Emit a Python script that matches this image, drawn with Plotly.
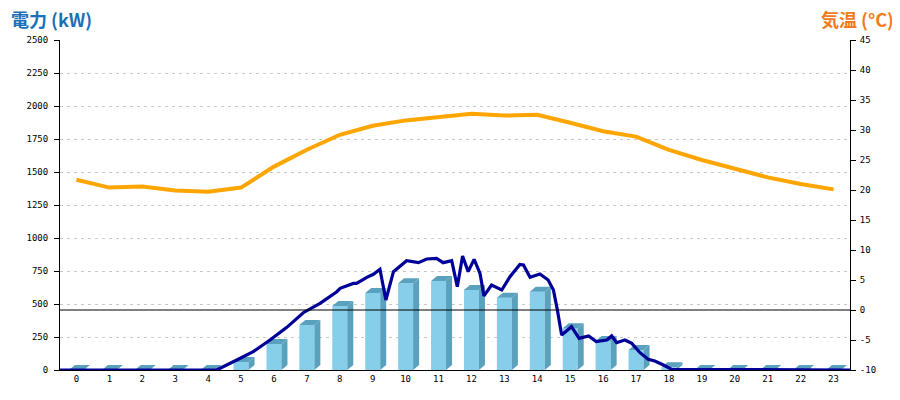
import plotly.graph_objects as go

# ---- data ----
hours = list(range(24))
bar_kw = [0, 0, 0, 0, 0, 61, 197, 341, 485, 583, 657, 674, 606, 548, 593, 317, 220, 152, 20, 0, 0, 0, 0, 0]
temp_c = [21.7, 20.4, 20.6, 19.9, 19.7, 20.4, 23.9, 26.7, 29.2, 30.7, 31.6, 32.2,
          32.7, 32.4, 32.55, 31.2, 29.8, 28.9, 26.7, 25.0, 23.55, 22.1, 21.0, 20.1]
# fine-grained power line: clock time (h) and kW
power_time = [0.0, 4.76, 5.37, 5.87, 6.38, 6.89, 7.39, 7.90, 8.41, 8.51, 8.91, 9.01, 9.32, 9.52,
              9.72, 9.90, 10.13, 10.53, 10.89, 11.14, 11.44, 11.64, 11.90, 12.07, 12.23,
              12.40, 12.58, 12.76, 12.88, 13.11, 13.42, 13.67, 13.97, 14.08, 14.28, 14.58,
              14.83, 14.99, 15.11, 15.24, 15.54, 15.77, 16.06, 16.29, 16.61, 16.76, 16.91,
              17.16, 17.37, 17.62, 17.87, 18.07, 18.33, 18.58, 24.0]
power_kw = [0, 0, 76, 139, 227, 323, 434, 505, 593, 619, 656, 656, 702, 725, 763, 530, 745,
            828, 813, 841, 846, 813, 828, 631, 864, 745, 838, 732, 561, 644, 606, 707, 800,
            795, 702, 727, 682, 606, 455, 265, 328, 240, 258, 215, 227, 258, 207, 227, 202,
            131, 81, 68, 38, 5, 0]

left_ticks = list(range(0, 2501, 250))
right_ticks = list(range(-10, 46, 5))

# ---- style ----
W, H = 892, 392          # page has an 8px body margin
ML, MR, MT, MB = 52, 50, 32, 30
plot_w = W - ML - MR
plot_h = H - MT - MB
px_per_x = plot_w / 24.0
px_per_kw = plot_h / 2500.0
bar_w = 15 / px_per_x
dx = 6 / px_per_x
dy = 5 / px_per_kw

front_col = "#87CEEB"
side_col = "#5AA1BE"
tick_font = dict(family="DejaVu Sans Mono", size=9, color="black")

fig = go.Figure()

fig.add_trace(go.Bar(x=hours, y=bar_kw, width=bar_w, marker=dict(color=front_col, line=dict(width=0)),
                     hoverinfo="skip"))

sx, sy, tx, ty = [], [], [], []
for h, v in zip(hours, bar_kw):
    r = h + bar_w / 2
    l = h - bar_w / 2
    sx += [r, r + dx, r + dx, r, r, None]
    sy += [0, dy, v + dy, v, 0, None]
    tx += [l, l + dx, r + dx, r, l, None]
    ty += [v, v + dy, v + dy, v, v, None]
fig.add_trace(go.Scatter(x=sx, y=sy, mode="none", fill="toself", fillcolor=side_col, hoverinfo="skip"))
fig.add_trace(go.Scatter(x=tx, y=ty, mode="none", fill="toself", fillcolor=side_col, hoverinfo="skip"))

fig.add_trace(go.Scatter(x=[t - 0.5 for t in power_time], y=power_kw, mode="lines",
                         line=dict(color="#000099", width=3.2), hoverinfo="skip"))

fig.add_trace(go.Scatter(x=hours, y=temp_c, yaxis="y2", mode="lines",
                         line=dict(color="#FFA500", width=4), hoverinfo="skip"))

fig.add_shape(type="line", xref="paper", x0=0, x1=1, yref="y2", y0=0, y1=0,
              line=dict(color="black", width=1), layer="above")

fig.update_layout(
    width=W, height=H, margin=dict(l=ML, r=MR, t=MT, b=MB),
    paper_bgcolor="white", plot_bgcolor="white", showlegend=False,
    xaxis=dict(range=[-0.5, 23.5], tickmode="array", tickvals=hours, ticktext=[str(h) for h in hours],
               showgrid=False, zeroline=False, showline=True, linecolor="black", linewidth=1,
               ticks="", tickfont=tick_font, fixedrange=True),
    yaxis=dict(range=[0, 2500], tickmode="array", tickvals=left_ticks, ticktext=[str(t) for t in left_ticks],
               showgrid=True, gridcolor="#C8C8C8", griddash="3px,4px", gridwidth=1,
               zeroline=False, showline=True, linecolor="black", linewidth=1,
               ticks="outside", ticklen=5, tickcolor="black", tickfont=tick_font, ticklabelstandoff=4),
    yaxis2=dict(range=[-10, 45], overlaying="y", side="right", tickmode="array", tickvals=right_ticks,
                ticktext=[str(t) for t in right_ticks], showgrid=False, zeroline=False,
                showline=True, linecolor="black", linewidth=1,
                ticks="outside", ticklen=5, tickcolor="black", tickfont=tick_font, ticklabelstandoff=2),
    annotations=[
        dict(text="<b>電力 (kW)</b>", xref="paper", yref="paper", x=0, y=1, xanchor="left", yanchor="middle",
             xshift=-50, yshift=21, showarrow=False, borderpad=0,
             font=dict(family="Noto Sans CJK JP", size=18, color="#1A70B8")),
        dict(text="<b>気温 (°C)</b>", xref="paper", yref="paper", x=1, y=1, xanchor="right", yanchor="middle",
             xshift=45, yshift=21, showarrow=False, borderpad=0,
             font=dict(family="Noto Sans CJK JP", size=18, color="#F07B1E")),
    ],
)

fig.write_html("out.html")
